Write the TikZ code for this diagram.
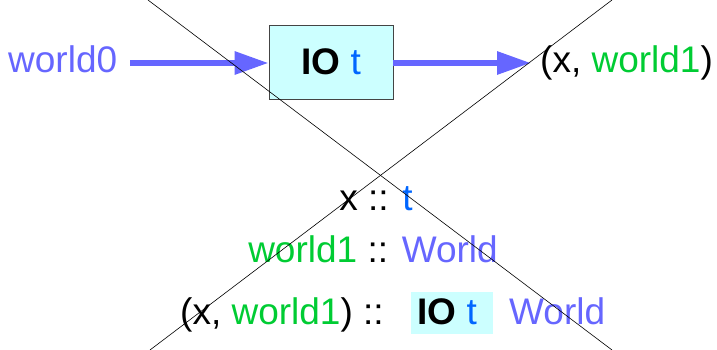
\documentclass[tikz,border=0pt]{standalone}
\usepackage{fontspec}
\setmainfont{Liberation Sans}
\usetikzlibrary{arrows.meta}
\definecolor{wblue}{HTML}{6666FF}
\definecolor{wgreen}{HTML}{00CC33}
\definecolor{tblue}{HTML}{0066FF}
\definecolor{iofill}{HTML}{CCFFFF}
\definecolor{ioborder}{HTML}{444444}
\tikzset{
  txt/.style={inner sep=0pt, font=\fontsize{37}{41}\selectfont},
  iobox/.style={draw=ioborder, fill=iofill, line width=0.8pt, inner sep=0pt, font=\fontsize{37}{41}\selectfont},
  flow/.style={draw=wblue, line width=6pt, -{Triangle[length=34pt,width=22pt]}},
  cross/.style={draw=black, line width=0.6pt}
}
\begin{document}
\begin{tikzpicture}[x=1pt,y=-1pt]
\useasboundingbox (0,0) rectangle (717,350);
% top row
\node[txt, anchor=base west, text=wblue] (w0) at (8,73) {world0};
\node[iobox, minimum width=124pt, minimum height=74pt] (io) at (331,62) {\textbf{IO} \textcolor{tblue}{t}};
\node[txt, anchor=base west] (out) at (540,73) {(x, \textcolor{wgreen}{world1})};
\coordinate (a0) at (130,63);
\coordinate (a1) at (531,63);
\draw[flow] (a0) -- (a0 -| io.west);
\draw[flow] (io.east |- a1) -- (a1);
% type lines
\node[txt, anchor=base] (l1) at (376,210) {x :: \textcolor{tblue}{t}};
\node[txt, anchor=base] (l2) at (373,262) {\textcolor{wgreen}{world1} :: \textcolor{wblue}{World}};
\node[txt, anchor=base west] (l3a) at (180,324) {(x, \textcolor{wgreen}{world1}) ::};
\fill[iofill] (411,292) rectangle (493,334);
\node[txt, anchor=base west] (l3b) at (417,324) {\textbf{IO} \textcolor{tblue}{t}};
\node[txt, anchor=base west, text=wblue] (l3c) at (509,324) {World};
% crossing lines
\draw[cross] (148,0) -- (612,350);
\draw[cross] (612,0) -- (150,350);
\end{tikzpicture}
\end{document}
